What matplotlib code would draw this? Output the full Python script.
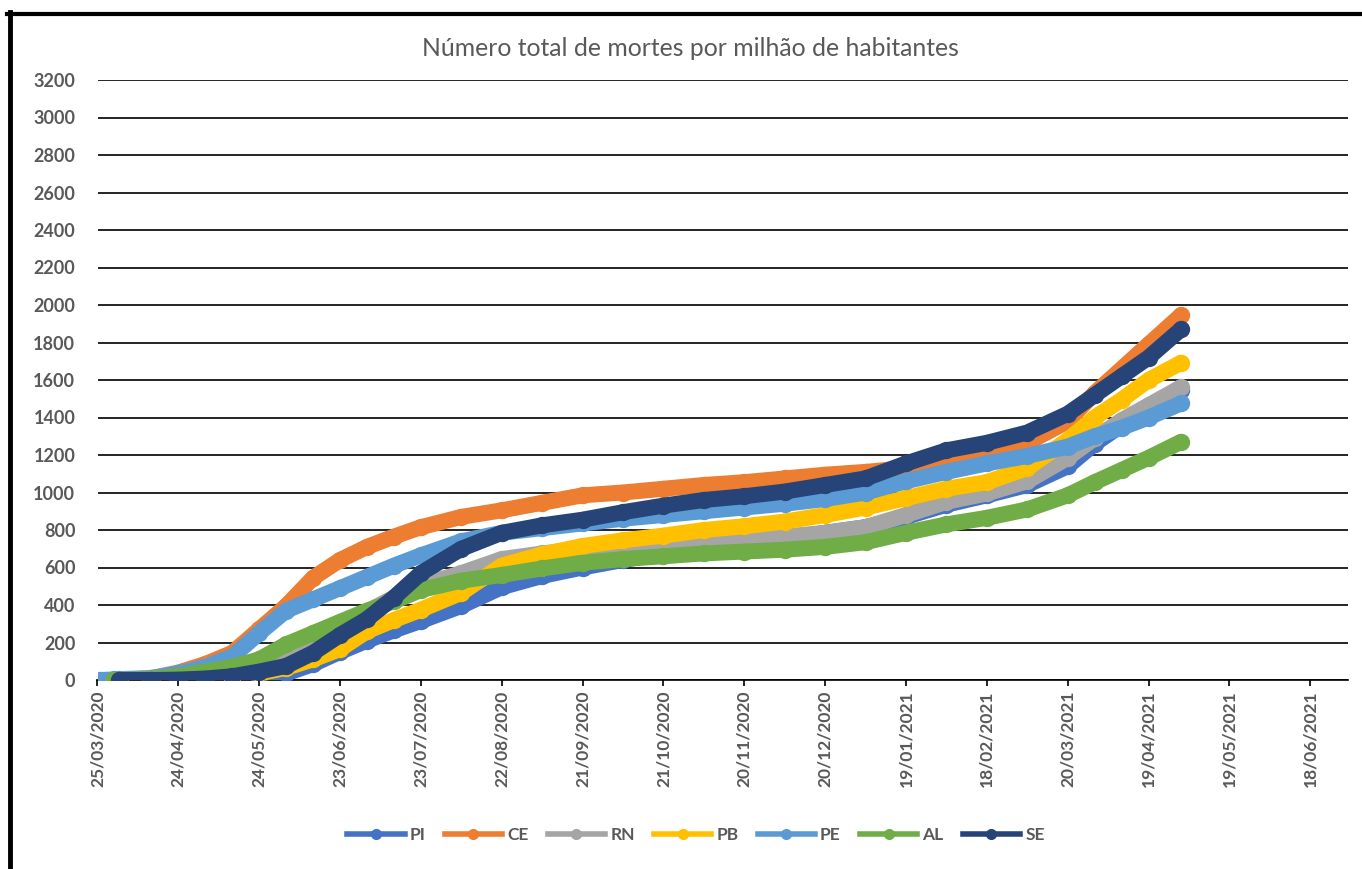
import matplotlib
matplotlib.use("Agg")
import matplotlib.pyplot as plt
from matplotlib.lines import Line2D
import pandas as pd

plt.rcParams['font.family'] = ['Lato', 'DejaVu Sans']

title = "Número total de mortes por milhão de habitantes"

dates = ['2020-03-26', '2020-03-31', '2020-04-02', '2020-04-14', '2020-04-24', '2020-05-04',
         '2020-05-14', '2020-05-24', '2020-06-03', '2020-06-13', '2020-06-23', '2020-07-03',
         '2020-07-13', '2020-07-23', '2020-08-07', '2020-08-22', '2020-09-06', '2020-09-21',
         '2020-10-06', '2020-10-21', '2020-11-05', '2020-11-20', '2020-12-05', '2020-12-20',
         '2021-01-04', '2021-01-19', '2021-02-03', '2021-02-18', '2021-03-05', '2021-03-20',
         '2021-03-30', '2021-04-09', '2021-04-19', '2021-05-01']

PI = [None, None, 0, 1, 3, 6, 10, 15, 35, 85, 150, 210, 265, 315, 395, 495, 555, 600, 640, 675,
      705, 730, 755, 785, 815, 870, 935, 985, 1040, 1140, 1260, 1360, 1440, 1545]
CE = [None, None, 0, 10, 40, 85, 145, 270, 395, 545, 640, 710, 765, 815, 870, 905, 945, 985, 1000,
      1020, 1040, 1055, 1075, 1095, 1110, 1130, 1165, 1205, 1265, 1380, 1530, 1660, 1790, 1945]
RN = [None, None, 0, 2, 5, 12, 25, 50, 100, 180, 270, 365, 440, 505, 570, 645, 675, 700, 715, 725,
      738, 750, 765, 785, 815, 880, 950, 995, 1060, 1185, 1290, 1385, 1465, 1561]
PB = [None, None, 0, 2, 4, 8, 15, 35, 65, 110, 165, 260, 320, 375, 465, 610, 670, 715, 745, 770,
      800, 820, 845, 880, 920, 970, 1020, 1055, 1130, 1280, 1400, 1495, 1600, 1692]
PE = [0, 3, 5, 10, 35, 70, 125, 250, 370, 430, 490, 550, 610, 665, 740, 785, 810, 835, 860, 880,
      900, 920, 940, 965, 1000, 1060, 1110, 1155, 1195, 1245, 1300, 1345, 1400, 1475]
AL = [None, 0, 0, 5, 20, 45, 70, 110, 190, 250, 310, 370, 420, 480, 530, 560, 595, 625, 645, 660,
      675, 685, 695, 710, 735, 785, 830, 865, 910, 985, 1055, 1120, 1185, 1270]
SE = [None, None, 0, 0, 2, 8, 20, 45, 75, 145, 240, 325, 440, 570, 700, 785, 825, 855, 895, 930,
      960, 980, 1005, 1040, 1075, 1155, 1225, 1265, 1320, 1420, 1520, 1620, 1720, 1870]

series_names = ['PI', 'CE', 'RN', 'PB', 'PE', 'AL', 'SE']
series_values = [PI, CE, RN, PB, PE, AL, SE]
colors = ['#4472C4', '#ED7D31', '#A5A5A5', '#FFC000', '#5B9BD5', '#70AD47', '#264478']

tick_labels = ['25/03/2020', '24/04/2020', '24/05/2020', '23/06/2020', '23/07/2020', '22/08/2020',
               '21/09/2020', '21/10/2020', '20/11/2020', '20/12/2020', '19/01/2021', '18/02/2021',
               '20/03/2021', '19/04/2021', '19/05/2021', '18/06/2021']
y_ticks = list(range(0, 3201, 200))

gray = '#595959'
W, H = 1362, 869
fig = plt.figure(figsize=(W / 100, H / 100), dpi=100)
ax = fig.add_axes([97.5 / W, 189 / H, 1250.5 / W, 600 / H])

x = pd.to_datetime(dates)
for name, vals, c in zip(series_names, series_values, colors):
    s = pd.Series(vals, index=x, dtype='float').dropna()
    ax.plot(s.index, s.values, '-', color=c, lw=11.5, marker='o', ms=12.5, mew=0,
            solid_joinstyle='round', solid_capstyle='round', zorder=3)

tick_pos = pd.to_datetime(tick_labels, format='%d/%m/%Y')
ax.set_xticks(tick_pos)
ax.set_xticklabels(tick_labels, rotation=90, fontsize=12.5, fontweight='bold', color=gray)
ax.set_xlim(pd.Timestamp('2020-03-25'), pd.Timestamp('2021-07-02'))
ax.set_ylim(0, 3200)
ax.set_yticks(y_ticks)
ax.set_yticklabels([str(v) for v in y_ticks], fontsize=13, fontweight='bold', color=gray)
ax.tick_params(axis='y', length=0, pad=16)
ax.tick_params(axis='x', length=4.5, width=1.2, color='black', pad=3)
ax.yaxis.grid(True, color='black', lw=1.2)
ax.set_axisbelow(True)
for sp in ['top', 'right', 'left']:
    ax.spines[sp].set_visible(False)
ax.spines['bottom'].set_color('black')
ax.spines['bottom'].set_linewidth(1.2)

fig.text(690 / W, 1 - 49 / H, title, ha='center', va='center', fontsize=17.8, color=gray)

handles = [Line2D([0], [0], color=c, lw=4, marker='o', ms=7) for c in colors]
leg = fig.legend(handles, series_names, loc='center', bbox_to_anchor=(696 / W, 1 - 835 / H),
                 ncol=7, frameon=False, handlelength=3.3, handletextpad=0.3, columnspacing=1.1,
                 prop={'weight': 'bold', 'size': 12.5})
for t in leg.get_texts():
    t.set_color(gray)

# chart border (top and left edges visible)
fig.add_artist(Line2D([7 / W, 1.0], [1 - 14 / H, 1 - 14 / H], color='black', lw=3, transform=fig.transFigure))
fig.add_artist(Line2D([10 / W, 10 / W], [0, 1 - 12 / H], color='black', lw=3.5, transform=fig.transFigure))

fig.savefig('out.png', dpi=100)
